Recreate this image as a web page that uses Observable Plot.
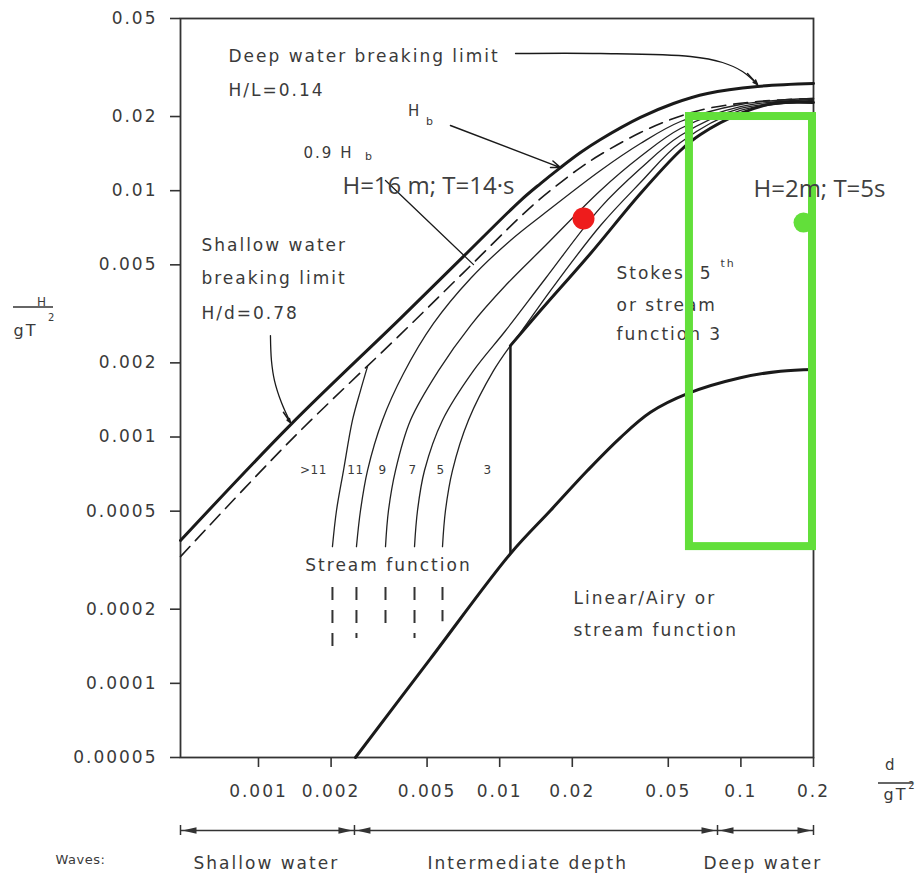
<!DOCTYPE html>
<html><head><meta charset="utf-8">
<script src="https://cdn.jsdelivr.net/npm/d3@7"></script>
<script src="https://cdn.jsdelivr.net/npm/@observablehq/plot@0.6"></script>
<style>
html,body{margin:0;padding:0;background:#fff;}
#chart svg{letter-spacing:2px;}
#chart svg g[font-family="Open Sans"]{letter-spacing:0;}
#chart svg g[font-family="DejaVu Sans, tight"]{letter-spacing:0.5px;}
</style></head><body><div id="chart"></div>
<script>
// ---------- axis ticks ----------
const xTicks = [0.001, 0.002, 0.005, 0.01, 0.02, 0.05, 0.1, 0.2];
const yTicks = [0.05, 0.02, 0.01, 0.005, 0.002, 0.001, 0.0005, 0.0002, 0.0001, 0.00005];

// ---------- curves (d/gT², H/gT²) ----------
const breakD = [4.75e-4, 1.357e-3, 3.879e-3, 7.08e-3, 1.220e-2, 1.476e-2, 1.787e-2, 2.163e-2, 2.618e-2, 3.834e-2, 5.254e-2, 7.27e-2, 0.1172, 0.2];
const breakH = [3.80e-4, 1.12e-3, 3.03e-3, 5.41e-3, 9.12e-3, 1.069e-2, 1.241e-2, 1.428e-2, 1.613e-2, 1.983e-2, 2.259e-2, 2.480e-2, 2.648e-2, 2.722e-2];

const break09D = [4.75e-4, 1.357e-3, 3.879e-3, 7.08e-3, 1.220e-2, 1.476e-2, 1.787e-2, 2.163e-2, 2.618e-2, 3.834e-2, 5.254e-2, 7.27e-2, 0.1172, 0.2];
const break09H = [3.27e-4, 9.67e-4, 2.61e-3, 4.65e-3, 7.85e-3, 9.29e-3, 1.079e-2, 1.241e-2, 1.402e-2, 1.722e-2, 1.963e-2, 2.156e-2, 2.301e-2, 2.367e-2];

const stokesD = [1.108e-2, 1.476e-2, 2.380e-2, 3.834e-2, 5.618e-2, 6.80e-2, 9.96e-2, 0.1365, 0.2];
const stokesH = [2.35e-3, 3.26e-3, 5.56e-3, 9.74e-3, 1.456e-2, 1.690e-2, 2.058e-2, 2.259e-2, 2.28e-2];

const airyD = [2.524e-3, 5.166e-3, 1.108e-2, 1.624e-2, 2.312e-2, 3.168e-2, 4.22e-2, 6.005e-2, 9.96e-2, 0.146, 0.2];
const airyH = [5.0e-5, 1.26e-4, 3.36e-4, 5.03e-4, 7.31e-4, 9.95e-4, 1.26e-3, 1.50e-3, 1.74e-3, 1.85e-3, 1.88e-3];

const ursellD = [1.108e-2];
const ursellH = [3.36e-4, 2.35e-3];

// stream function order boundaries
const sf1D = [2.026e-3, 2.106e-3, 2.251e-3, 2.453e-3, 2.648e-3, 2.831e-3];
const sf1H = [3.59e-4, 5.03e-4, 7.31e-4, 1.17e-3, 1.543e-3, 1.93e-3];
const sf2D = [2.548e-3, 2.648e-3, 2.831e-3, 3.266e-3, 3.992e-3, 5.316e-3, 7.57e-3, 1.108e-2, 1.548e-2, 2.618e-2, 3.834e-2, 5.618e-2, 9.96e-2, 0.2];
const sf2H = [3.59e-4, 5.03e-4, 7.31e-4, 1.17e-3, 1.81e-3, 2.89e-3, 4.40e-3, 6.28e-3, 8.15e-3, 1.208e-2, 1.554e-2, 1.909e-2, 2.238e-2, 2.367e-2];
const sf3D = [3.362e-3, 3.459e-3, 3.698e-3, 4.267e-3, 5.576e-3, 7.57e-3, 1.057e-2, 1.548e-2, 2.618e-2, 3.834e-2, 5.618e-2, 9.96e-2, 0.2];
const sf3H = [3.59e-4, 5.03e-4, 7.31e-4, 1.17e-3, 1.86e-3, 2.835e-3, 4.12e-3, 5.99e-3, 1.002e-2, 1.376e-2, 1.788e-2, 2.196e-2, 2.345e-2];
const sf4D = [4.435e-3, 4.564e-3, 4.878e-3, 5.793e-3, 7.79e-3, 1.057e-2, 1.548e-2, 2.618e-2, 3.834e-2, 5.618e-2, 9.96e-2, 0.2];
const sf4H = [3.59e-4, 5.03e-4, 7.31e-4, 1.17e-3, 1.86e-3, 2.70e-3, 4.40e-3, 8.54e-3, 1.230e-2, 1.675e-2, 2.156e-2, 2.323e-2];
const sf5D = [5.793e-3, 5.96e-3, 6.37e-3, 7.42e-3, 9.43e-3, 1.108e-2, 1.220e-2, 1.624e-2, 2.618e-2, 3.834e-2, 5.618e-2, 9.96e-2, 0.2];
const sf5H = [3.59e-4, 5.03e-4, 7.31e-4, 1.17e-3, 1.86e-3, 2.35e-3, 2.655e-3, 3.93e-3, 7.22e-3, 1.079e-2, 1.568e-2, 2.116e-2, 2.301e-2];

// dashed continuation stubs below "Stream function"
const stubD = [2.026e-3, 2.548e-3, 3.362e-3, 4.435e-3, 5.793e-3];
const stubTop = [2.447e-4, 2.447e-4, 2.447e-4, 2.447e-4, 2.447e-4];
const stubBottom = [1.384e-4, 1.519e-4, 1.748e-4, 1.519e-4, 1.780e-4];

// leaders
const deepLeadD = [1.163e-2, 2.618e-2, 6.18e-2, 8.39e-2, 0.1015, 0.1172];
const deepLeadH = [0.03605, 0.03605, 0.03505, 0.03314, 0.03047, 0.02698];
const shallowLeadD = [1.121e-3, 1.132e-3, 1.165e-3, 1.245e-3, 1.357e-3];
const shallowLeadH = [2.582e-3, 2.04e-3, 1.695e-3, 1.38e-3, 1.145e-3];
const arrowsTbl = [
  {x1: 0.1065, y1: 0.02989, x2: 0.1172, y2: 0.02698},
  {x1: 1.269e-3, y1: 1.26e-3, x2: 1.357e-3, y2: 1.145e-3},
  {x1: 6.25e-3, y1: 0.01839, x2: 1.787e-2, y2: 0.01241}
];
const hb09LeadD = [3.362e-3, 7.79e-3];
const hb09LeadH = [0.01100, 5.01e-3];

// labels
const noteText = ["Deep water breaking limit", "H/L=0.14", "Shallow water", "breaking limit", "H/d=0.78", "Stokes\u00a0\u00a05", "or stream", "function 3", "Linear/Airy or", "stream function"];
const noteD = [7.51e-4, 7.51e-4, 5.80e-4, 5.80e-4, 5.80e-4, 3.050e-2, 3.050e-2, 3.050e-2, 2.023e-2, 2.023e-2];
const noteH = [0.03505, 0.02551, 5.99e-3, 4.40e-3, 3.17e-3, 4.61e-3, 3.42e-3, 2.61e-3, 2.21e-4, 1.637e-4];
const orderText = [">11", "11", "9", "7", "5", "3"];
const orderD = [1.690e-3, 2.524e-3, 3.266e-3, 4.350e-3, 5.683e-3, 8.90e-3];
const orderH = 7.31e-4;

const waveText = ["Shallow water", "Intermediate depth", "Deep water"];
const waveD = [5.38e-4, 5.02e-3, 7.00e-2];
const waveBounds = [4.75e-4, 0.0025, 0.08, 0.2];

// highlighted cases
const caseText = ["H=16 m; T=14\u00b7s", "H=2m; T=5s"];
const caseD = [2.229e-3, 0.1128];
const caseH = [1.045e-2, 1.011e-2];
const redPoint = [{x: 2.226e-2, y: 7.71e-3}];
const greenPoint = [{x: 0.1818, y: 7.42e-3}];
const greenBox = [{x1: 0.0612, x2: 0.1981, y1: 3.59e-4, y2: 0.02}];

// ---------- helpers ----------
const pts = (xs, ys) => xs.map((x, i) => ({x, y: ys[i]}));
const ink = "#1a1a1a", txt = "#3a3a3a", green = "#62df3a";
const thick = (xs, ys) => Plot.line(pts(xs, ys), {x: "x", y: "y", curve: "catmull-rom", stroke: ink, strokeWidth: 3});
const thin = (xs, ys) => Plot.line(pts(xs, ys), {x: "x", y: "y", curve: "catmull-rom", stroke: "#222", strokeWidth: 1.3});
const xMin = 4.75e-4;
const yBase = yTicks[yTicks.length - 1];

const wedgeL = {draw(ctx) { ctx.moveTo(0, 0); ctx.lineTo(14, -3.2); ctx.lineTo(14, 3.2); ctx.closePath(); }};
const wedgeR = {draw(ctx) { ctx.moveTo(0, 0); ctx.lineTo(-14, -3.2); ctx.lineTo(-14, 3.2); ctx.closePath(); }};

function fractionBars(...args) {
  const dims = args.find(a => a && typeof a === "object" && "marginLeft" in a) || {};
  const {marginLeft = 180, marginTop = 18, marginRight = 108, marginBottom = 122, width = 921, height = 879} = dims;
  const right = width - marginRight, bottom = height - marginBottom;
  const g = d3.create("svg:g").attr("stroke", "#333").attr("stroke-width", 1.3);
  g.append("line").attr("x1", marginLeft - 167).attr("x2", marginLeft - 127).attr("y1", marginTop + 289).attr("y2", marginTop + 289);
  g.append("line").attr("x1", right + 65).attr("x2", right + 100).attr("y1", bottom + 26).attr("y2", bottom + 26);
  return g.node();
}

const chart = Plot.plot({
  width: 921, height: 879,
  marginTop: 18, marginLeft: 180, marginRight: 108, marginBottom: 122,
  x: {type: "log", domain: [xMin, 0.2], axis: null},
  y: {type: "log", domain: [5e-5, 0.05], axis: null},
  style: {fontFamily: "DejaVu Sans", fontSize: "17px", background: "white", color: txt},
  marks: [
    Plot.frame({stroke: "#333", strokeWidth: 1.8}),
    // ticks and tick labels
    Plot.ruleX(xTicks, {x: d => d, y1: yBase, y2: yBase, insetTop: 0, insetBottom: -10, stroke: "#333", strokeWidth: 1.6}),
    Plot.ruleY(yTicks, {y: d => d, x1: xMin, x2: xMin, insetLeft: -10, insetRight: 0, stroke: "#333", strokeWidth: 1.6}),
    Plot.text(xTicks, {x: d => d, text: d => String(d), frameAnchor: "bottom", dy: 39, fill: txt, fontSize: 17}),
    Plot.text(yTicks, {y: d => d, text: d => String(d), frameAnchor: "left", dx: -23, textAnchor: "end", fill: txt, fontSize: 17}),

    // curves
    thick(breakD, breakH),
    Plot.line(pts(break09D, break09H), {x: "x", y: "y", curve: "catmull-rom", stroke: ink, strokeWidth: 1.6, strokeDasharray: "14,8"}),
    thin(sf1D, sf1H), thin(sf2D, sf2H), thin(sf3D, sf3H), thin(sf4D, sf4H), thin(sf5D, sf5H),
    thick(stokesD, stokesH),
    thick(airyD, airyH),
    Plot.ruleX(ursellD, {x: d => d, y1: ursellH[0], y2: ursellH[1], stroke: ink, strokeWidth: 2.5}),
    Plot.ruleX(stubD.map((x, i) => ({x, y1: stubTop[i], y2: stubBottom[i]})), {x: "x", y1: "y1", y2: "y2", stroke: "#333", strokeWidth: 2, strokeDasharray: "13,10"}),

    // leaders
    Plot.line(pts(deepLeadD, deepLeadH), {x: "x", y: "y", curve: "catmull-rom", stroke: ink, strokeWidth: 1.3}),
    Plot.line(pts(shallowLeadD, shallowLeadH), {x: "x", y: "y", curve: "catmull-rom", stroke: ink, strokeWidth: 1.3}),
    Plot.line(pts(hb09LeadD, hb09LeadH), {x: "x", y: "y", stroke: ink, strokeWidth: 1.3}),
    Plot.arrow(arrowsTbl, {x1: "x1", y1: "y1", x2: "x2", y2: "y2", stroke: ink, strokeWidth: 1.5, headLength: 10, headAngle: 40}),

    // text labels
    Plot.text(noteText.map((t, i) => ({t, x: noteD[i], y: noteH[i]})), {x: "x", y: "y", text: "t", textAnchor: "start", fill: txt, fontSize: 17}),
    Plot.text(["Stream function"], {x: 3.459e-3, y: 3.005e-4, text: d => d, textAnchor: "middle", fill: txt, fontSize: 17}),
    Plot.text(orderText.map((t, i) => ({t, x: orderD[i]})), {x: "x", y: orderH, text: "t", fill: txt, fontSize: 12, fontFamily: "DejaVu Sans, tight"}),
    Plot.text(["H"], {x: 4.435e-3, y: 0.02097, text: d => d, fill: txt, fontSize: 15}),
    Plot.text(["b", "b"], {x: (d, i) => [5.166e-3, 2.885e-3][i], y: (d, i) => [0.01909, 0.01380][i], text: d => d, fill: txt, fontSize: 11}),
    Plot.text(["0.9 H"], {x: 1.537e-3, y: 0.01420, text: d => d, textAnchor: "start", fill: txt, fontSize: 15}),
    Plot.text(["th"], {x: 8.23e-2, y: 5.06e-3, text: d => d, textAnchor: "start", fill: txt, fontSize: 11}),

    // axis titles
    Plot.text(["H"], {frameAnchor: "top-left", dx: -143.5, dy: 279, text: d => d, fill: txt, fontSize: 12}),
    Plot.text(["gT"], {frameAnchor: "top-left", dx: -167, dy: 306, text: d => d, textAnchor: "start", fill: txt, fontSize: 16}),
    Plot.text(["2"], {frameAnchor: "top-left", dx: -132.5, dy: 295, text: d => d, fill: txt, fontSize: 10}),
    Plot.text(["d"], {frameAnchor: "bottom-right", dx: 83, dy: 12, text: d => d, fill: txt, fontSize: 15}),
    Plot.text(["gT"], {frameAnchor: "bottom-right", dx: 70, dy: 42, text: d => d, textAnchor: "start", fill: txt, fontSize: 16}),
    Plot.text(["2"], {frameAnchor: "bottom-right", dx: 103, dy: 31, text: d => d, fill: txt, fontSize: 10}),
    fractionBars,

    // wave depth band
    Plot.ruleY([yBase], {y: d => d, dy: 73, stroke: "#333", strokeWidth: 1.5}),
    Plot.ruleX(waveBounds, {x: d => d, y1: yBase, y2: yBase, insetTop: -5, insetBottom: -5, dy: 73, stroke: "#333", strokeWidth: 1.5}),
    Plot.dot(waveBounds.slice(0, 3), {x: d => d, y: yBase, dy: 73, dx: 2, symbol: wedgeL, fill: "#333", stroke: "none"}),
    Plot.dot(waveBounds.slice(1), {x: d => d, y: yBase, dy: 73, dx: -2, symbol: wedgeR, fill: "#333", stroke: "none"}),
    Plot.text(waveText.map((t, i) => ({t, x: waveD[i]})), {x: "x", y: yBase, dy: 106, text: "t", textAnchor: "start", fill: txt, fontSize: 17}),
    Plot.text(["Waves:"], {frameAnchor: "bottom-left", dx: -125, dy: 106, text: d => d, textAnchor: "start", fill: txt, fontSize: 13, fontFamily: "DejaVu Sans, tight"}),

    // overlays
    Plot.rect(greenBox, {x1: "x1", x2: "x2", y1: "y1", y2: "y2", fill: "none", stroke: green, strokeWidth: 8}),
    Plot.dot(redPoint, {x: "x", y: "y", r: 11, fill: "#ee1c1c", stroke: "none"}),
    Plot.dot(greenPoint, {x: "x", y: "y", r: 10, fill: green, stroke: "none"}),
    Plot.text(caseText.map((t, i) => ({t, x: caseD[i], y: caseH[i]})), {x: "x", y: "y", text: "t", textAnchor: "start", fill: "#404040", fontSize: 24, fontFamily: "Open Sans"})
  ]
});
document.getElementById("chart").appendChild(chart);
</script></body></html>
